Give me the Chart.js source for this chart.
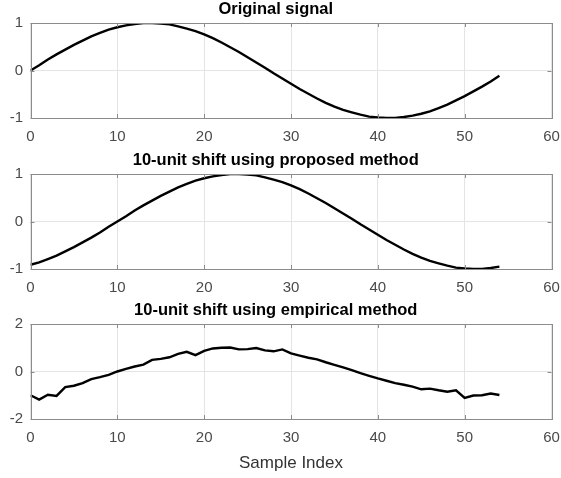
<!DOCTYPE html>
<html>
<head>
<meta charset="utf-8">
<script src="https://cdn.jsdelivr.net/npm/chart.js@4.4.0/dist/chart.umd.min.js"></script>
<style>
  html, body { margin: 0; padding: 0; background: #fff; }
  #wrap { position: relative; width: 561px; height: 478px; }
  .panel { position: absolute; left: 0; width: 561px; }
</style>
</head>
<body>
<div id="wrap">
  <div class="panel" style="top:0;height:148px"><canvas id="origChart"></canvas></div>
  <div class="panel" style="top:151px;height:148px"><canvas id="propChart"></canvas></div>
  <div class="panel" style="top:301px;height:177px"><canvas id="empChart"></canvas></div>
</div>
<script>
const sampleIndex = Array.from({ length: 55 }, (_, i) => i);

const originalSignal = [
    0, 0.11, 0.23, 0.34, 0.44, 0.54, 0.63, 0.72, 0.79, 0.86,
    0.91, 0.95, 0.98, 1.0, 1.0, 0.99, 0.97, 0.93, 0.88, 0.83,
    0.76, 0.68, 0.59, 0.49, 0.39, 0.28, 0.17, 0.06, -0.06, -0.17,
    -0.28, -0.39, -0.49, -0.59, -0.68, -0.76, -0.83, -0.88, -0.93, -0.97,
    -0.99, -1.0, -1.0, -0.98, -0.95, -0.91, -0.86, -0.79, -0.72, -0.63,
    -0.54, -0.44, -0.34, -0.23, -0.11
];

const proposedShift = [
    -0.91, -0.86, -0.79, -0.72, -0.63, -0.54, -0.44, -0.34, -0.23, -0.11,
    0, 0.11, 0.23, 0.34, 0.44, 0.54, 0.63, 0.72, 0.79, 0.86,
    0.91, 0.95, 0.98, 1.0, 1.0, 0.99, 0.97, 0.93, 0.88, 0.83,
    0.76, 0.68, 0.59, 0.49, 0.39, 0.28, 0.17, 0.06, -0.06, -0.17,
    -0.28, -0.39, -0.49, -0.59, -0.68, -0.76, -0.83, -0.88, -0.93, -0.97,
    -0.99, -1.0, -1.0, -0.98, -0.95
];

const empiricalShift = [
    -1.0, -1.18, -0.98, -1.03, -0.66, -0.6, -0.49, -0.32, -0.24, -0.14,
    0.0, 0.11, 0.21, 0.29, 0.49, 0.53, 0.6, 0.74, 0.83, 0.69,
    0.87, 0.97, 1.0, 1.01, 0.93, 0.94, 0.99, 0.89, 0.85, 0.93,
    0.76, 0.67, 0.58, 0.51, 0.39, 0.28, 0.17, 0.06, -0.07, -0.18,
    -0.29, -0.39, -0.49, -0.56, -0.64, -0.75, -0.72, -0.79, -0.85, -0.79,
    -1.11, -1.01, -1.0, -0.93, -0.99
];

const FONT = '"Liberation Sans", Arial, sans-serif';

// matlab style box with inward tick marks
const matlabBox = {
    id: 'matlabBox',
    afterDraw(chart) {
        const { ctx, chartArea: a, scales } = chart;
        const tl = 4;
        ctx.save();
        ctx.strokeStyle = '#8c8c8c';
        ctx.lineWidth = 1;
        ctx.strokeRect(Math.round(a.left) + 0.5, Math.round(a.top) + 0.5,
            Math.round(a.right - a.left), Math.round(a.bottom - a.top));
        ctx.beginPath();
        scales.x.ticks.forEach(t => {
            const px = Math.round(scales.x.getPixelForValue(t.value)) + 0.5;
            ctx.moveTo(px, a.bottom); ctx.lineTo(px, a.bottom - tl);
            ctx.moveTo(px, a.top); ctx.lineTo(px, a.top + tl);
        });
        scales.y.ticks.forEach(t => {
            const py = Math.round(scales.y.getPixelForValue(t.value)) + 0.5;
            ctx.moveTo(a.left, py); ctx.lineTo(a.left + tl, py);
            ctx.moveTo(a.right, py); ctx.lineTo(a.right - tl, py);
        });
        ctx.stroke();
        ctx.restore();
    }
};

function makeChart(id, title, values, yMin, yMax, yStep, xTitle, xHeight) {
    const ctx = document.getElementById(id).getContext('2d');
    return new Chart(ctx, {
        type: 'line',
        data: {
            datasets: [{
                data: sampleIndex.map((x, i) => ({ x: x, y: values[i] })),
                borderColor: '#000',
                borderWidth: 2.4,
                pointRadius: 0,
                tension: 0,
                fill: false
            }]
        },
        options: {
            responsive: true,
            maintainAspectRatio: false,
            animation: false,
            layout: { padding: { left: 0, right: 9.5, top: 0, bottom: 0 } },
            plugins: {
                legend: { display: false },
                tooltip: { enabled: false },
                title: {
                    display: true,
                    text: title,
                    color: '#000',
                    font: { family: FONT, size: 16.5, weight: 'bold' },
                    padding: { top: 0, bottom: 3.2 }
                }
            },
            scales: {
                x: {
                    type: 'linear',
                    min: 0,
                    max: 60,
                    ticks: { stepSize: 10, color: '#4a4a4a', padding: 10, maxRotation: 0, font: { family: FONT, size: 15 } },
                    grid: { color: '#e4e4e4', drawTicks: false },
                    border: { display: false },
                    title: {
                        display: !!xTitle,
                        text: xTitle,
                        color: '#333',
                        font: { family: FONT, size: 17 },
                        padding: { top: 0, bottom: 4 }
                    },
                    afterFit(s) {
                        s.height = xHeight;
                        s.paddingLeft = 0;
                        s.paddingRight = 0;
                    }
                },
                y: {
                    min: yMin,
                    max: yMax,
                    ticks: { stepSize: yStep, color: '#4a4a4a', padding: 7.5, font: { family: FONT, size: 15 } },
                    grid: { color: '#e4e4e4', drawTicks: false },
                    border: { display: false },
                    afterFit(s) {
                        s.width = 30.5;
                        s.paddingTop = 0;
                        s.paddingBottom = 0;
                    }
                }
            }
        },
        plugins: [matlabBox]
    });
}

makeChart('origChart', 'Original signal', originalSignal, -1, 1, 1, '', 30);
makeChart('propChart', '10-unit shift using proposed method', proposedShift, -1, 1, 1, '', 30);
makeChart('empChart', '10-unit shift using empirical method', empiricalShift, -2, 2, 2, 'Sample Index', 59);
</script>
</body>
</html>
